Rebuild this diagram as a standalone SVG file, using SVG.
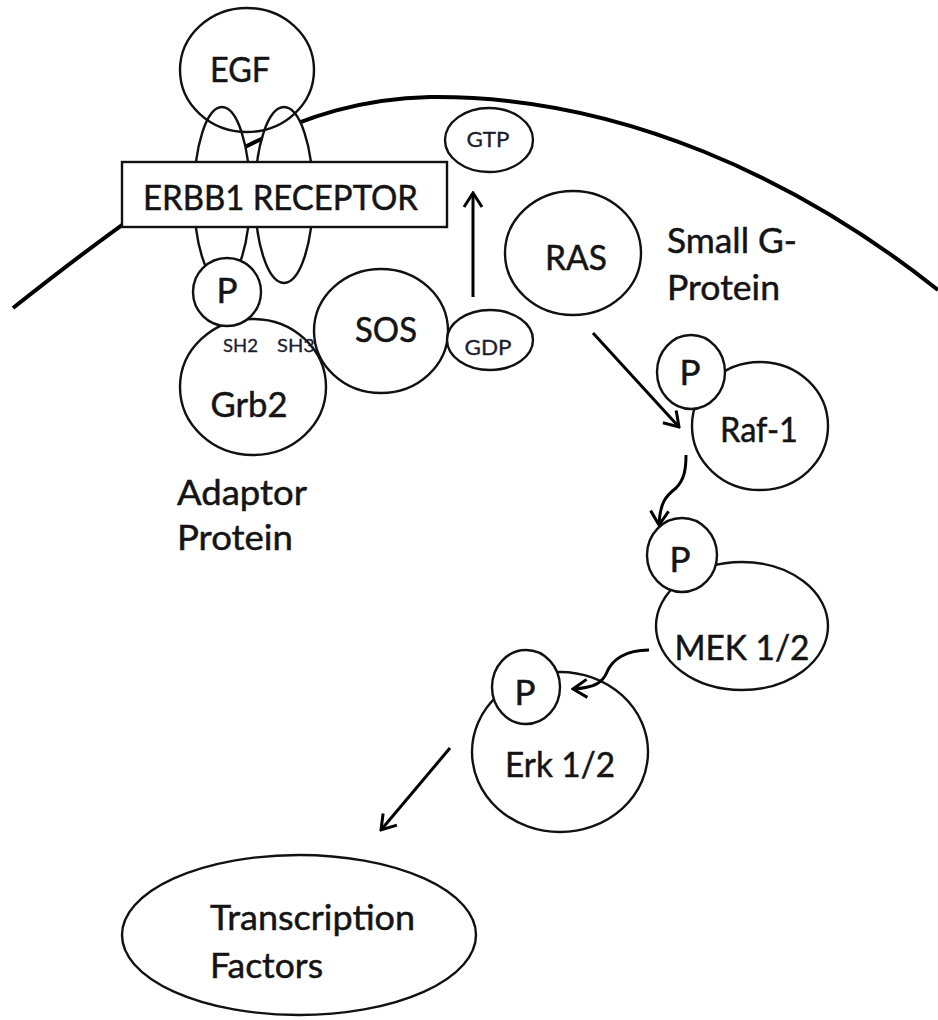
<svg xmlns="http://www.w3.org/2000/svg" width="938" height="1020" viewBox="0 0 938 1020">
  <style>
    .shape { fill: #fff; stroke: #111; stroke-width: 2.4; }
    .open { fill: none; stroke: #111; stroke-width: 2.4; }
    .membrane { fill: none; stroke: #000; stroke-width: 4; }
    .lbl { font-family: Lato, "Open Sans", "Liberation Sans", sans-serif; font-size: 35px; fill: #141414; stroke: #141414; stroke-width: 0.5; }
    .small { font-family: Lato, "Open Sans", "Liberation Sans", sans-serif; font-size: 21px; fill: #1c1c30; stroke: #1c1c30; stroke-width: 0.3; }
    .tiny { font-family: Lato, "Open Sans", "Liberation Sans", sans-serif; font-size: 17px; fill: #1c1c30; stroke: #1c1c30; stroke-width: 0.3; }
    .arrow { fill: none; stroke: #000; stroke-width: 3; marker-end: url(#head); }
  </style>
  <defs>
    <marker id="head" viewBox="0 0 18 22" refX="16" refY="11" markerWidth="18" markerHeight="22" markerUnits="userSpaceOnUse" orient="auto">
      <path d="M2,2 L16,11 L2,20" fill="none" stroke="#000" stroke-width="3"/>
    </marker>
  </defs>

  <rect width="938" height="1020" fill="#fff"/>

  <!-- cell membrane -->
  <path class="membrane" d="M13,308 C200,160 300,100 430,97 C620,95 800,180 938,290"/>

  <!-- EGF bound to the ERBB1 dimer -->
  <g id="receptor">
    <ellipse class="shape" cx="222" cy="195" rx="28" ry="88"/>
    <ellipse class="shape" cx="284" cy="195" rx="29" ry="88"/>
  </g>
  <g id="egf">
    <ellipse class="open" cx="247" cy="70" rx="67" ry="62"/>
    <text class="lbl" x="240" y="82" text-anchor="middle" textLength="60" lengthAdjust="spacingAndGlyphs">EGF</text>
  </g>
  <g id="erbb1">
    <rect class="shape" x="122" y="162" width="325" height="65"/>
    <text class="lbl" x="143" y="210" textLength="275" lengthAdjust="spacingAndGlyphs">ERBB1 RECEPTOR</text>
  </g>

  <!-- adaptor complex -->
  <g id="grb2">
    <ellipse class="shape" cx="253" cy="387" rx="73" ry="68"/>
    <text class="lbl" x="249" y="417" text-anchor="middle" textLength="77" lengthAdjust="spacingAndGlyphs">Grb2</text>
    <text class="tiny" x="223" y="352" textLength="35" lengthAdjust="spacingAndGlyphs">SH2</text>
    <text class="tiny" x="277" y="352" textLength="38" lengthAdjust="spacingAndGlyphs">SH3</text>
  </g>
  <g id="receptor-p">
    <circle class="shape" cx="227" cy="292" r="34"/>
    <text class="lbl" x="227" y="303" text-anchor="middle">P</text>
  </g>
  <g id="sos">
    <ellipse class="shape" cx="381" cy="331" rx="67" ry="62"/>
    <text class="lbl" x="386" y="342" text-anchor="middle" textLength="62" lengthAdjust="spacingAndGlyphs">SOS</text>
  </g>
  <g id="gdp">
    <ellipse class="shape" cx="490" cy="340" rx="43" ry="30"/>
    <text class="small" x="488" y="355" text-anchor="middle" textLength="47" lengthAdjust="spacingAndGlyphs">GDP</text>
  </g>
  <g id="gtp">
    <ellipse class="shape" cx="489" cy="140" rx="44" ry="32"/>
    <text class="small" x="488" y="147" text-anchor="middle" textLength="43" lengthAdjust="spacingAndGlyphs">GTP</text>
  </g>
  <g id="adaptor-label">
    <text class="lbl" x="177" y="505" textLength="130" lengthAdjust="spacingAndGlyphs">Adaptor</text>
    <text class="lbl" x="177" y="550" textLength="116" lengthAdjust="spacingAndGlyphs">Protein</text>
  </g>

  <!-- RAS -->
  <g id="ras">
    <ellipse class="shape" cx="573" cy="253" rx="68" ry="62"/>
    <text class="lbl" x="576" y="270" text-anchor="middle" textLength="62" lengthAdjust="spacingAndGlyphs">RAS</text>
  </g>
  <g id="ras-label">
    <text class="lbl" x="667" y="253" textLength="130" lengthAdjust="spacingAndGlyphs">Small G-</text>
    <text class="lbl" x="667" y="300" textLength="113" lengthAdjust="spacingAndGlyphs">Protein</text>
  </g>

  <!-- kinase cascade -->
  <g id="raf1">
    <ellipse class="shape" cx="760" cy="426" rx="68" ry="64"/>
    <text class="lbl" x="759" y="442" text-anchor="middle" textLength="78" lengthAdjust="spacingAndGlyphs">Raf-1</text>
    <ellipse class="shape" cx="691" cy="372" rx="34" ry="37"/>
    <text class="lbl" x="690" y="385" text-anchor="middle">P</text>
  </g>
  <g id="mek">
    <ellipse class="shape" cx="742" cy="626" rx="86" ry="64"/>
    <text class="lbl" x="742" y="660" text-anchor="middle" textLength="135" lengthAdjust="spacingAndGlyphs">MEK 1/2</text>
    <ellipse class="shape" cx="682" cy="555" rx="35" ry="37"/>
    <text class="lbl" x="680" y="572" text-anchor="middle">P</text>
  </g>
  <g id="erk">
    <ellipse class="shape" cx="560" cy="752" rx="88" ry="80"/>
    <text class="lbl" x="560" y="777" text-anchor="middle" textLength="110" lengthAdjust="spacingAndGlyphs">Erk 1/2</text>
    <ellipse class="shape" cx="526" cy="687" rx="34" ry="37"/>
    <text class="lbl" x="525" y="705" text-anchor="middle">P</text>
  </g>
  <g id="transcription-factors">
    <ellipse class="shape" cx="299" cy="935" rx="177" ry="80"/>
    <text class="lbl" x="210" y="930" textLength="205" lengthAdjust="spacingAndGlyphs">Transcription</text>
    <text class="lbl" x="210" y="978" textLength="113" lengthAdjust="spacingAndGlyphs">Factors</text>
  </g>

  <!-- connectors -->
  <g id="connectors">
    <path class="arrow" d="M473,297 L473,193"/>
    <path class="arrow" d="M593,333 L679,427"/>
    <path class="arrow" d="M686,455 C686,470 684,480 676,488 C666,496 660,502 659,525"/>
    <path class="arrow" d="M649,650 C625,650 612,660 607,672 C603,682 595,688 573,689"/>
    <path class="arrow" d="M450,748 L381,830"/>
  </g>
</svg>
